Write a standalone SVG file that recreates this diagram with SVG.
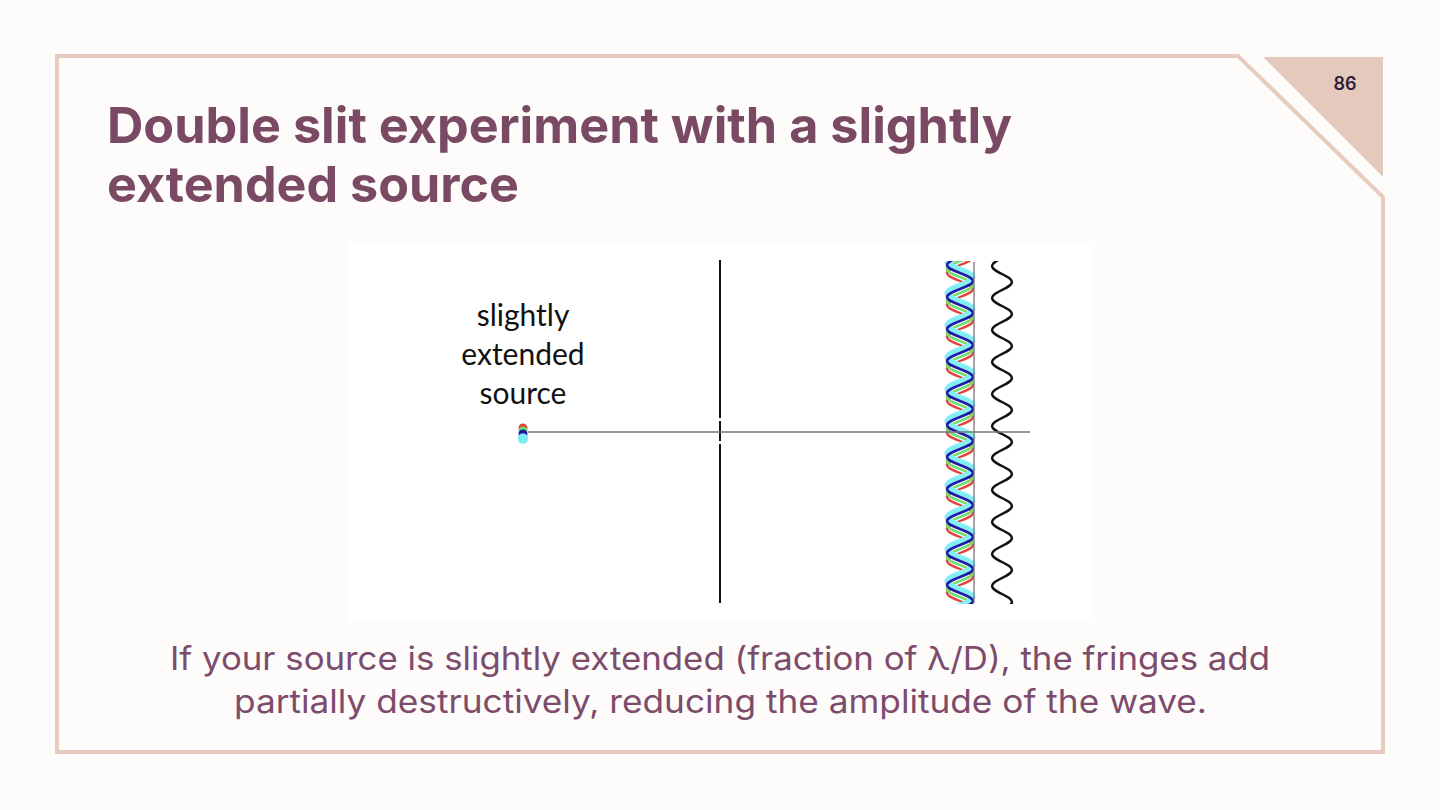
<svg xmlns="http://www.w3.org/2000/svg" width="1440" height="810" viewBox="0 0 1440 810">
<defs>
<style>
.title{font-family:Inter,"DM Sans","Liberation Sans",sans-serif;font-weight:700;font-size:50px;fill:#7a4a64}
.body{font-family:Inter,"Liberation Sans",sans-serif;font-weight:400;font-size:32px;fill:#7d4c6c}
.lbl{font-family:Lato,"Open Sans","Liberation Sans",sans-serif;font-size:30px;fill:#111}
.wave{fill:none;stroke-linecap:round;stroke-linejoin:round}
</style>
<clipPath id="screenClip"><rect x="930" y="261" width="110" height="343"/></clipPath>
</defs>
<rect width="1440" height="810" fill="#fdfcfa"/>
<g id="frame">
<path d="M57,56 H1238 L1383,197 V752 H57 Z" fill="none" stroke="#e8cbbf" stroke-width="4"/>
<path d="M1263,57 H1383 V177 Z" fill="#e6c9bd"/>
<text x="1345" y="90" text-anchor="middle" style="font-family:Inter,'Liberation Sans',sans-serif;font-weight:600;font-size:18px;fill:#2d1e3a">86</text>
</g>
<g id="title">
<text class="title" x="107" y="143" textLength="905" lengthAdjust="spacingAndGlyphs">Double slit experiment with a slightly</text>
<text class="title" x="107" y="202" textLength="412" lengthAdjust="spacingAndGlyphs">extended source</text>
</g>
<g id="figure">
<rect x="348" y="242" width="742" height="380" fill="#ffffff"/>
<g id="label">
<text class="lbl" x="523" y="326" text-anchor="middle">slightly</text>
<text class="lbl" x="523" y="365" text-anchor="middle">extended</text>
<text class="lbl" x="523" y="404" text-anchor="middle">source</text>
</g>
<g id="source">
<circle cx="523" cy="428" r="4.5" fill="#e0453a"/>
<circle cx="523" cy="431" r="4.5" fill="#6fd86f"/>
<circle cx="523" cy="434" r="4.5" fill="#1a1aa0"/>
<circle cx="523" cy="438.5" r="5.2" fill="#7fecf4"/>
</g>
<g id="slits" stroke="#111" stroke-width="2">
<line x1="720" y1="260" x2="720" y2="418"/>
<line x1="720" y1="421" x2="720" y2="441"/>
<line x1="720" y1="444" x2="720" y2="603"/>
</g>
<g id="fringes" clip-path="url(#screenClip)">
<path class="wave" stroke="#e0453a" stroke-width="2.3" d="M973,257 c0,5.83 -26,10.17 -26,16 s26,10.17 26,16 s-26,10.17 -26,16 s26,10.17 26,16 s-26,10.17 -26,16 s26,10.17 26,16 s-26,10.17 -26,16 s26,10.17 26,16 s-26,10.17 -26,16 s26,10.17 26,16 s-26,10.17 -26,16 s26,10.17 26,16 s-26,10.17 -26,16 s26,10.17 26,16 s-26,10.17 -26,16 s26,10.17 26,16 s-26,10.17 -26,16 s26,10.17 26,16 s-26,10.17 -26,16 s26,10.17 26,16 s-26,10.17 -26,16 s26,10.17 26,16 s-26,10.17 -26,16"/>
<path class="wave" stroke="#76dc76" stroke-width="2.8" d="M973,253 c0,5.83 -26,10.17 -26,16 s26,10.17 26,16 s-26,10.17 -26,16 s26,10.17 26,16 s-26,10.17 -26,16 s26,10.17 26,16 s-26,10.17 -26,16 s26,10.17 26,16 s-26,10.17 -26,16 s26,10.17 26,16 s-26,10.17 -26,16 s26,10.17 26,16 s-26,10.17 -26,16 s26,10.17 26,16 s-26,10.17 -26,16 s26,10.17 26,16 s-26,10.17 -26,16 s26,10.17 26,16 s-26,10.17 -26,16 s26,10.17 26,16 s-26,10.17 -26,16 s26,10.17 26,16 s-26,10.17 -26,16"/>
<path class="wave" stroke="#86eef6" stroke-width="5" d="M973,245 c0,5.83 -26,10.17 -26,16 s26,10.17 26,16 s-26,10.17 -26,16 s26,10.17 26,16 s-26,10.17 -26,16 s26,10.17 26,16 s-26,10.17 -26,16 s26,10.17 26,16 s-26,10.17 -26,16 s26,10.17 26,16 s-26,10.17 -26,16 s26,10.17 26,16 s-26,10.17 -26,16 s26,10.17 26,16 s-26,10.17 -26,16 s26,10.17 26,16 s-26,10.17 -26,16 s26,10.17 26,16 s-26,10.17 -26,16 s26,10.17 26,16 s-26,10.17 -26,16 s26,10.17 26,16 s-26,10.17 -26,16"/>
<path class="wave" stroke="#1c1ca8" stroke-width="2.5" d="M973,249 c0,5.83 -26,10.17 -26,16 s26,10.17 26,16 s-26,10.17 -26,16 s26,10.17 26,16 s-26,10.17 -26,16 s26,10.17 26,16 s-26,10.17 -26,16 s26,10.17 26,16 s-26,10.17 -26,16 s26,10.17 26,16 s-26,10.17 -26,16 s26,10.17 26,16 s-26,10.17 -26,16 s26,10.17 26,16 s-26,10.17 -26,16 s26,10.17 26,16 s-26,10.17 -26,16 s26,10.17 26,16 s-26,10.17 -26,16 s26,10.17 26,16 s-26,10.17 -26,16 s26,10.17 26,16 s-26,10.17 -26,16"/>
<path class="wave" stroke="#111" stroke-width="2.5" d="M1012,250 c0,5.83 -20,10.17 -20,16 s20,10.17 20,16 s-20,10.17 -20,16 s20,10.17 20,16 s-20,10.17 -20,16 s20,10.17 20,16 s-20,10.17 -20,16 s20,10.17 20,16 s-20,10.17 -20,16 s20,10.17 20,16 s-20,10.17 -20,16 s20,10.17 20,16 s-20,10.17 -20,16 s20,10.17 20,16 s-20,10.17 -20,16 s20,10.17 20,16 s-20,10.17 -20,16 s20,10.17 20,16 s-20,10.17 -20,16 s20,10.17 20,16 s-20,10.17 -20,16 s20,10.17 20,16 s-20,10.17 -20,16"/>
</g>
<g id="connectors" stroke="#777" stroke-width="1.3">
<line x1="528" y1="432" x2="1030" y2="432"/>
<line x1="974" y1="262" x2="974" y2="603"/>
</g>
</g>
<g id="caption">
<text class="body" x="720" y="670" text-anchor="middle" textLength="1100" lengthAdjust="spacingAndGlyphs">If your source is slightly extended (fraction of λ/D), the fringes add</text>
<text class="body" x="720.5" y="713" text-anchor="middle" textLength="973" lengthAdjust="spacingAndGlyphs">partially destructively, reducing the amplitude of the wave.</text>
</g>
</svg>
